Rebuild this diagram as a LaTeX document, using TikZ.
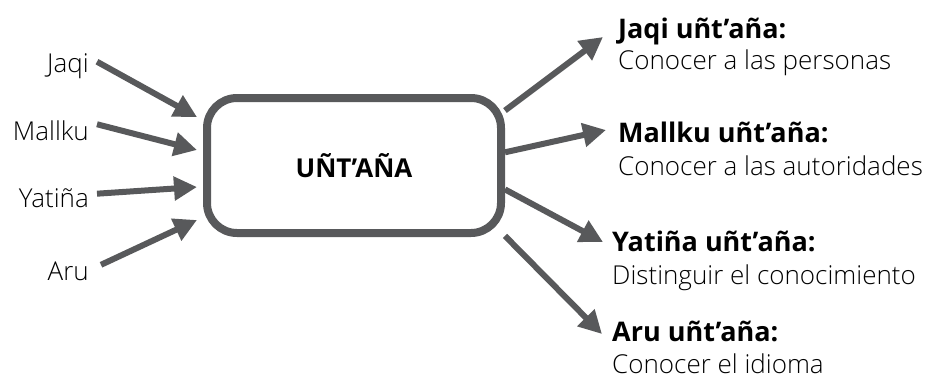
\documentclass[tikz,border=0pt]{standalone}
\usepackage{fontspec}
\setmainfont{Open Sans}[UprightFont={* Light}, BoldFont={* Bold}]
\usetikzlibrary{arrows.meta,positioning,calc}
\definecolor{linegray}{HTML}{58595B}

\begin{document}
\begin{tikzpicture}[
        x=1pt, y=-1pt,
        hub/.style={draw=linegray, line width=8pt, rounded corners=30pt,
            minimum width=294pt, minimum height=135pt, font=\fontsize{26}{30}\selectfont\bfseries},
        source/.style={anchor=base east, inner sep=0pt, font=\fontsize{26}{30}\selectfont},
        head/.style={anchor=base west, inner sep=0pt, font=\fontsize{27}{31}\selectfont\bfseries},
        desc/.style={inner sep=0pt, font=\fontsize{26}{30}\selectfont},
        arrow/.style={-{Triangle[length=23pt, width=23pt]}, draw=linegray, fill=linegray, line width=6pt}
        ]
        \useasboundingbox (0,0) rectangle (940,381);
        % central box
        \node[hub] (core) at (354,165.5) {UÑT’AÑA};
        % inputs on the left
        \node[source] (jaqi) at (89,72) {Jaqi};
        \node[source] (mallku) at (89,140) {Mallku};
        \node[source] (yatina) at (89,207) {Yatiña};
        \node[source] (aru) at (89,280) {Aru};
        \draw[arrow] ($(jaqi.east)+(8,-4)$) -- (197,117);
        \draw[arrow] ($(mallku.east)+(8,-6)$) -- (197,150);
        \draw[arrow] ($(yatina.east)+(8,-4)$) -- (197,187);
        \draw[arrow] ($(aru.east)+(12,-6)$) -- (197,220);
        % outputs on the right
        \node[head] (h1) at (618,38) {Jaqi uñt’aña:};
        \node[desc, below=31pt of h1.base west, anchor=base west] (d1) {Conocer a las personas};
        \node[head] (h2) at (618,142) {Mallku uñt’aña:};
        \node[desc, below=33pt of h2.base west, anchor=base west] (d2) {Conocer a las autoridades};
        \node[head] (h3) at (612,251) {Yatiña uñt’aña:};
        \node[desc, below=33pt of h3.base west, anchor=base west] (d3) {Distinguir el conocimiento};
        \node[head] (h4) at (612,341) {Aru uñt’aña:};
        \node[desc, below=32pt of h4.base west, anchor=base west] (d4) {Conocer el idioma};
        \draw[arrow] (core.20) -- ($(h1.base west)+(-15,-1)$);
        \draw[arrow] (core.5) -- ($(h2.base west)+(-12,-12)$);
        \draw[arrow] (core.-9) -- ($(h3.base west)+(-9,-9)$);
        \draw[arrow] (core.-25) -- ($(h4.base west)+(-10,-7)$);
\end{tikzpicture}
\end{document}
